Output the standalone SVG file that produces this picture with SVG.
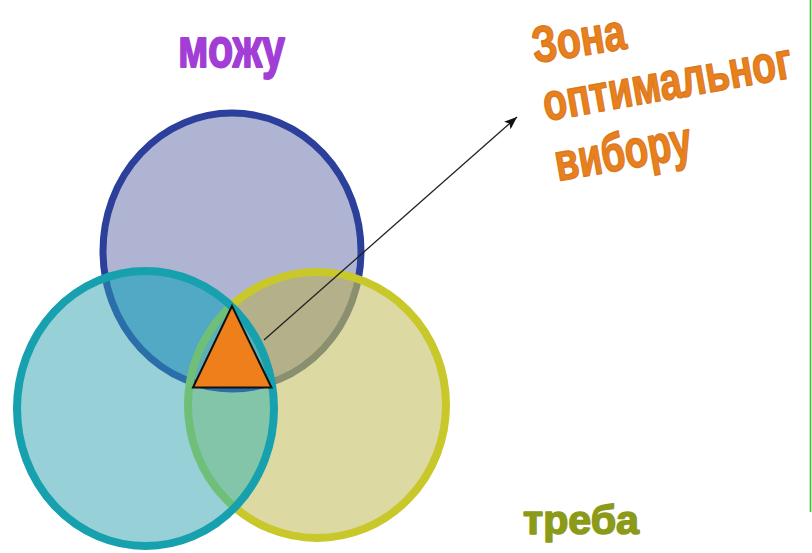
<svg xmlns="http://www.w3.org/2000/svg" width="812" height="553" viewBox="0 0 812 553">
<style>
.lbl{font-family:'Liberation Sans Narrow','Liberation Sans',Arial,sans-serif;font-weight:bold;stroke-linejoin:round;}
.orange{fill:#ea801c;stroke:#d97a24;stroke-width:1.6;}
.ring{fill:none;}
</style>
<defs>
<ellipse id="eBlue" cx="232" cy="251" rx="129" ry="138"/>
<ellipse id="eTeal" cx="145.5" cy="408.5" rx="128.5" ry="137.5"/>
<ellipse id="eYel" cx="317" cy="405" rx="129" ry="133"/>
<clipPath id="inYel"><use href="#eYel"/></clipPath>
<clipPath id="inTeal"><use href="#eTeal"/></clipPath>
<marker id="arr" markerUnits="userSpaceOnUse" markerWidth="14" markerHeight="10" refX="13" refY="5" orient="auto">
<path d="M0,0 L13,5 L0,10 L3,5 z" fill="#111"/>
</marker>
</defs>
<rect width="812" height="553" fill="#ffffff"/>
<line x1="810.5" y1="0" x2="810.5" y2="512" stroke="#2ecc2e" stroke-width="1.6"/>

<g id="circle-mozhu">
<use href="#eBlue" fill="#b0b4d3" stroke="#2c3f9a" stroke-width="7"/>
</g>
<g id="circle-treba">
<use href="#eYel" fill="#ddd9a3"/>
<g clip-path="url(#inYel)">
<use href="#eBlue" fill="#b3b08a" stroke="#8a8f6f" stroke-width="7"/>
</g>
<use href="#eYel" class="ring" stroke="#c8c82a" stroke-width="8"/>
</g>
<g id="circle-left">
<use href="#eTeal" fill="#97d0d7"/>
<g clip-path="url(#inTeal)">
<use href="#eBlue" fill="#51a9c5"/>
<use href="#eYel" fill="#82c5a9"/>
<g clip-path="url(#inYel)"><use href="#eBlue" fill="#5cb0b4"/></g>
<use href="#eBlue" class="ring" stroke="#2a6fa9" stroke-width="7"/>
<use href="#eYel" class="ring" stroke="#6fbf78" stroke-width="8"/>
</g>
<use href="#eTeal" class="ring" stroke="#17a0ad" stroke-width="8"/>
</g>

<g id="triangle">
<polygon points="232,306 193,387.5 271.5,387.5" fill="#ee7f1a" stroke="#111" stroke-width="2" stroke-linejoin="miter"/>
</g>

<g id="connectors">
<line x1="264" y1="340" x2="517" y2="117" stroke="#222" stroke-width="1.3" marker-end="url(#arr)"/>
</g>

<g id="label-mozhu">
<text class="lbl" x="178" y="67" font-size="55" fill="#a23ed6" stroke="#a23ed6" stroke-width="1.8" textLength="107" lengthAdjust="spacingAndGlyphs">можу</text>
</g>
<g id="label-treba">
<text class="lbl" x="523" y="534" font-size="41" fill="#8c9a1a" stroke="#8c9a1a" stroke-width="1.6" textLength="116" lengthAdjust="spacingAndGlyphs">треба</text>
</g>
<g id="label-zone">
<text class="lbl orange" x="535" y="63" font-size="51" textLength="94" lengthAdjust="spacingAndGlyphs" transform="rotate(-9 535 63)">Зона</text>
<text class="lbl orange" x="0" y="0" font-size="52" textLength="323" lengthAdjust="spacingAndGlyphs" transform="translate(546 121) rotate(-10) scale(0.78 1)">оптимальног</text>
<text class="lbl orange" x="558" y="181" font-size="53" textLength="138" lengthAdjust="spacingAndGlyphs" transform="rotate(-10 558 181)">вибору</text>
</g>
</svg>
